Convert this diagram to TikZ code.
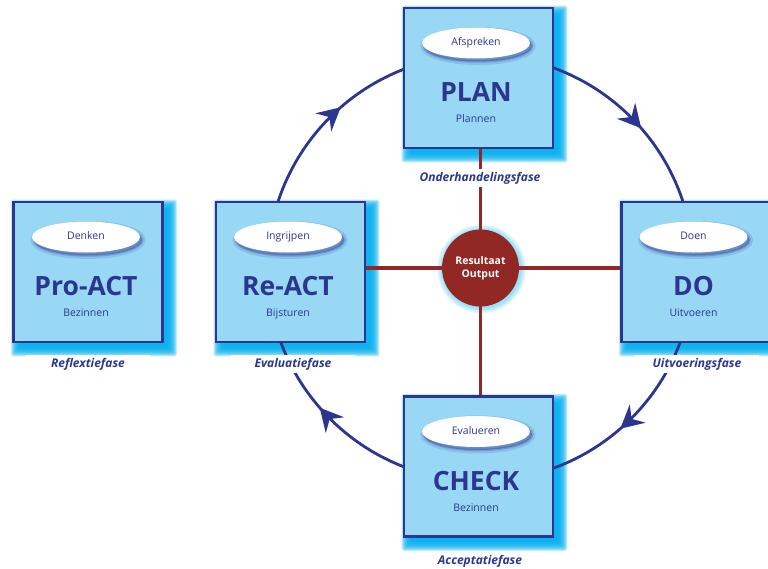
\documentclass[tikz,border=0pt]{standalone}
\usepackage{fontspec}
\setmainfont{Open Sans}
\usetikzlibrary{arrows.meta,calc,shapes.geometric,decorations.markings}

\definecolor{pdcanavy}{RGB}{43,54,145}
\definecolor{pdcasky}{RGB}{152,216,245}
\definecolor{pdcaglow}{RGB}{0,174,239}
\definecolor{pdcared}{RGB}{146,40,36}

\pgfdeclarelayer{glow}
\pgfdeclarelayer{ring}
\pgfsetlayers{glow,ring,main}

\begin{document}
\begin{tikzpicture}[x=1pt, y=-1pt,
		phasebox/.style={draw=pdcanavy, fill=pdcasky, line width=2.6pt, minimum width=149pt, minimum height=140pt, inner sep=0pt},
		tagoval/.style={ellipse, fill=white, minimum width=108pt, minimum height=31pt, inner sep=0pt,
			text=pdcanavy, text height=7.5pt, text depth=2pt, font=\fontsize{10.5}{12}\selectfont,
			preaction={draw=pdcanavy, fill=pdcanavy, opacity=.15, line width=7pt, transform canvas={shift={(2pt,-3pt)}}},
			preaction={draw=pdcanavy, fill=pdcanavy, opacity=.25, line width=2.5pt, transform canvas={shift={(2pt,-3pt)}}}},
		headtext/.style={anchor=base, text=pdcanavy, inner sep=0pt, font=\fontsize{26.5}{30}\selectfont\bfseries},
		subtext/.style={anchor=base, text=pdcanavy, inner sep=0pt, font=\fontsize{10.5}{12}\selectfont},
		fase/.style={fill=white, text=pdcanavy, minimum width=124pt, minimum height=18pt, inner sep=0pt,
			text height=8.5pt, text depth=2.5pt, font=\fontsize{12}{14}\selectfont\bfseries\itshape},
		result/.style={circle, fill=pdcared, minimum size=77pt, inner sep=0pt, text=white, align=center,
			font=\fontsize{10.5}{13}\selectfont\bfseries},
		spoke/.style={draw=pdcared, line width=3.2pt},
		loopline/.style={draw=pdcanavy, line width=2.8pt},
		boxglow/.style={pdcaglow, opacity=.25, rounded corners=2pt}]

	\useasboundingbox (0,0) rectangle (768,568);

	\node[phasebox] (proact) at (88,272) {};
	\node[tagoval] (proacttag) at (86,237) {Denken};
	\node[headtext] (proacthead) at (86,295.5) {Pro-ACT};
	\node[subtext] (proactsub) at (86,316.5) {Bezinnen};
	\node[fase] (proactfase) at (88,364) {Reflextiefase};

	\node[phasebox] (react) at (290.5,272) {};
	\node[tagoval] (reacttag) at (288,237) {Ingrijpen};
	\node[headtext] (reacthead) at (288,295.5) {Re-ACT};
	\node[subtext] (reactsub) at (288,316.5) {Bijsturen};
	\node[fase] (reactfase) at (293,364) {Evaluatiefase};

	\node[phasebox] (plan) at (478.5,78) {};
	\node[tagoval] (plantag) at (476,43) {Afspreken};
	\node[headtext] (planhead) at (476,101.5) {PLAN};
	\node[subtext] (plansub) at (476,122.5) {Plannen};
	\node[fase] (planfase) at (480,178) {Onderhandelingsfase};

	\node[phasebox] (do) at (696,272) {};
	\node[tagoval] (dotag) at (693.5,237) {Doen};
	\node[headtext] (dohead) at (693.5,295.5) {DO};
	\node[subtext] (dosub) at (693.5,316.5) {Uitvoeren};
	\node[fase] (dofase) at (697,364) {Uitvoeringsfase};

	\node[phasebox] (check) at (478.5,466.5) {};
	\node[tagoval] (checktag) at (476,431.5) {Evalueren};
	\node[headtext] (checkhead) at (476,490) {CHECK};
	\node[subtext] (checksub) at (476,511) {Bezinnen};
	\node[fase] (checkfase) at (480,561) {Acceptatiefase};

	\node[result] (res) at (480.5,268) {Resultaat\\Output};

	\begin{pgfonlayer}{glow}
		\foreach \ph in {proact,react,plan,do,check}
			\foreach \k in {0,...,9}
				\fill[boxglow] ($(\ph.north west)+(8-\k,8-\k)$) rectangle ($(\ph.south east)+(4+\k,4+\k)$);
		\foreach \k in {1,...,6}
			\fill[pdcaglow, opacity=.08] ($(res)+(1,1)$) circle [radius=38.5+\k];
	\end{pgfonlayer}

	\begin{pgfonlayer}{ring}
		\draw[loopline, postaction={decorate}, decoration={markings,
			mark=between positions 0.1139 and 0.99 step 0.25 with {\arrowreversed{Stealth[length=23pt, width=24pt, inset=8pt]}}}]
			(res) circle [radius=213pt];
		\draw[spoke] (react.east |- res) -- (do.west |- res);
		\draw[spoke] (plan.south -| res) -- (check.north -| res);
	\end{pgfonlayer}

\end{tikzpicture}
\end{document}
